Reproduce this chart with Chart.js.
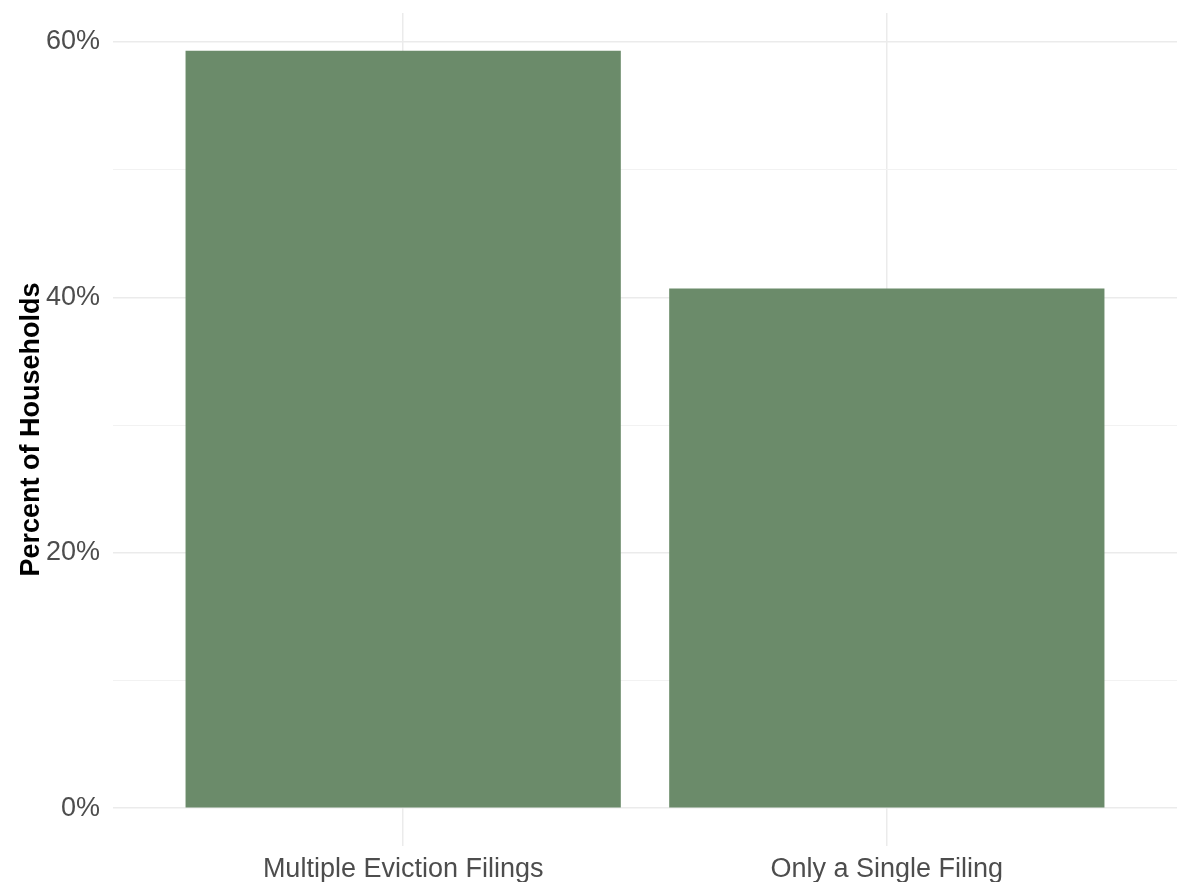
<!DOCTYPE html>
<html>
<head>
<meta charset="utf-8">
<script src="https://cdn.jsdelivr.net/npm/chart.js@4/dist/chart.umd.min.js"></script>
<style>
  html, body { margin: 0; padding: 0; background: #fff; }
  #wrap { width: 1185px; height: 882px; }
</style>
</head>
<body>
<div id="wrap"><canvas id="grafica"></canvas></div>
<script>
const categories = ['Multiple Eviction Filings', 'Only a Single Filing'];
const percentValues = [59.3, 40.7];
const yTicks = [0, 10, 20, 30, 40, 50, 60];
const yLabelTicks = [0, 20, 40, 60];

// ggplot-style expansion: 5% on the continuous axis, 0.6 units on the discrete one
const yMax = Math.max(...percentValues) * 1.05;
const yMin = -Math.max(...percentValues) * 0.05;

const fontFamily = 'Liberation Sans, Arial, sans-serif';

const ctx = document.getElementById('grafica').getContext('2d');

const grafica = new Chart(ctx, {
  type: 'bar',
  data: {
    datasets: [{
      label: 'Percent of Households',
      data: categories.map((c, i) => ({ x: i + 1, y: percentValues[i] })),
      backgroundColor: '#6b8b6a',
      borderWidth: 0,
      barPercentage: 0.9,
      categoryPercentage: 1.0
    }]
  },
  options: {
    responsive: true,
    maintainAspectRatio: false,
    animation: false,
    layout: { padding: { top: 13, right: 8, left: 0, bottom: 0 } },
    plugins: { legend: { display: false }, tooltip: { enabled: false } },
    scales: {
      x: {
        type: 'linear',
        offset: false,
        min: 0.4,
        max: categories.length + 0.6,
        afterBuildTicks: axis => { axis.ticks = categories.map((c, i) => ({ value: i + 1 })); },
        afterFit: axis => { axis.height = 36; },
        border: { display: false },
        grid: { offset: false, color: '#ebebeb', lineWidth: 1.5, drawTicks: false },
        ticks: {
          callback: v => categories[v - 1],
          color: '#4d4d4d',
          font: { family: fontFamily, size: 27 },
          padding: 7,
          maxRotation: 0
        }
      },
      y: {
        min: yMin,
        max: yMax,
        afterBuildTicks: axis => { axis.ticks = yTicks.map(v => ({ value: v })); },
        afterFit: axis => {
          axis.width = 113;
          axis.paddingTop = 0;
          axis.paddingBottom = 0;
        },
        border: { display: false },
        grid: {
          color: c => yLabelTicks.includes(c.tick.value) ? '#ebebeb' : '#f2f2f2',
          lineWidth: c => yLabelTicks.includes(c.tick.value) ? 1.5 : 1,
          drawTicks: false
        },
        ticks: {
          callback: v => yLabelTicks.includes(v) ? v + '%' : '',
          color: '#4d4d4d',
          font: { family: fontFamily, size: 27 },
          padding: 13
        },
        title: {
          display: true,
          text: 'Percent of Households',
          color: '#000',
          font: { family: fontFamily, size: 27, weight: 'bold' },
          padding: { top: 15, bottom: 0 }
        }
      }
    }
  }
});
</script>
</body>
</html>
